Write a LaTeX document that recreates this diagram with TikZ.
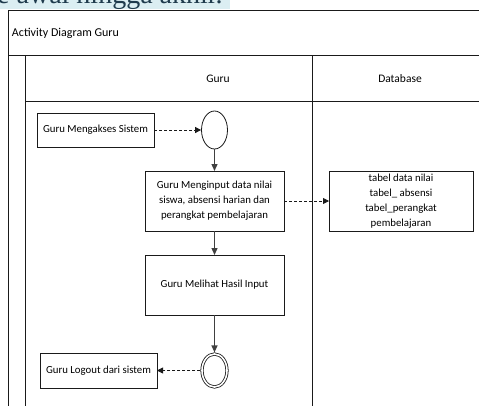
\documentclass[tikz,border=0pt]{standalone}
\usepackage{fontspec}
\setmainfont{Carlito}
\newfontfamily\serifdoc{Liberation Serif}
\usepackage{tikz}
\usetikzlibrary{arrows.meta}
\usetikzlibrary{shapes.geometric}
\definecolor{framegray}{HTML}{1A1A1A}
\definecolor{flowgray}{HTML}{404040}
\definecolor{marktint}{HTML}{DBEEF2}
\definecolor{docink}{HTML}{1F3B4D}
\newcommand{\boxfont}{\fontsize{10.8}{15}\selectfont}
\newcommand{\lanefont}{\fontsize{11.5}{14}\selectfont}
\tikzstyle{lane}=[draw=framegray, line width=0.9pt]
\tikzstyle{lanelabel}=[inner sep=0, outer sep=0, font=\lanefont]
\tikzstyle{action}=[draw=framegray, line width=0.8pt, inner sep=0, outer sep=0, align=center, font=\boxfont]
\tikzstyle{startnode}=[draw=framegray, line width=0.8pt, ellipse, inner sep=0, outer sep=0.4pt, minimum width=26pt, minimum height=38pt]
\tikzstyle{endnode}=[startnode, double=white, double distance=1.6pt, outer sep=1.6pt, minimum width=25pt, minimum height=33pt]
\tikzstyle{flow}=[draw=flowgray, line width=1.3pt, -{Triangle[length=7pt, width=6pt]}]
\tikzstyle{objflow}=[draw=framegray, line width=0.8pt, dash pattern=on 3pt off 2pt, -{Triangle[length=6pt, width=6pt]}]
\tikzstyle{diagram}=[x=1pt, y=-1pt]

\begin{document}
\begin{tikzpicture}[diagram]
    \useasboundingbox (0,0) rectangle (479,405);
    \clip (0,0) rectangle (479,405);
    % cut-off line of the page above the figure
    \fill[marktint] (0,0) rectangle (230,8.5);
    \node[anchor=base west, inner sep=0, text=docink, font=\serifdoc\fontsize{28}{30}\selectfont] (pagetext) at (-3,3) {e awal hingga akhir.};

    \draw[lane] (490,10) -- (8,10) -- (8,415);
    \draw[lane] (8,55) -- (490,55);
    \draw[lane] (25,415) -- (25,55);
    \draw[lane] (25,101) -- (490,101);
    \draw[lane] (312,55) -- (312,415);
    \node[lanelabel, anchor=west, font=\fontsize{12}{14}\selectfont] (title) at (12,33) {Activity Diagram Guru};
    \node[lanelabel] (laneguru) at (218,79) {Guru};
    \node[lanelabel] (lanedb) at (400,79) {Database};

    \node[action, minimum width=117pt, minimum height=34pt] (akses) at (95.5,130) {Guru Mengakses Sistem};
    \node[startnode]                                        (start) at (214.5,130) {};
    \node[action, minimum width=139pt, minimum height=60pt] (input) at (214.5,201) {Guru Menginput data nilai\\siswa, absensi harian dan\\perangkat pembelajaran};
    \node[action, minimum width=144pt, minimum height=60pt] (store) at (401,201) {tabel data nilai\\tabel\_ absensi\\tabel\_perangkat\\pembelajaran};
    \node[action, minimum width=139pt, minimum height=60pt] (hasil) at (214.5,285) {Guru Melihat Hasil Input};
    \node[endnode]                                          (finish) at (214.5,370.5) {};
    \node[action, minimum width=117pt, minimum height=35pt] (logout) at (98.5,370.5) {Guru Logout dari sistem};

    \draw[objflow] (akses) -- (start);
    \draw[flow] (start) -- (input);
    \draw[objflow] (input) -- (store);
    \draw[flow] (input) -- (hasil);
    \draw[flow] (hasil) -- (finish);
    \draw[objflow] (finish) -- (logout);
\end{tikzpicture}
\end{document}
